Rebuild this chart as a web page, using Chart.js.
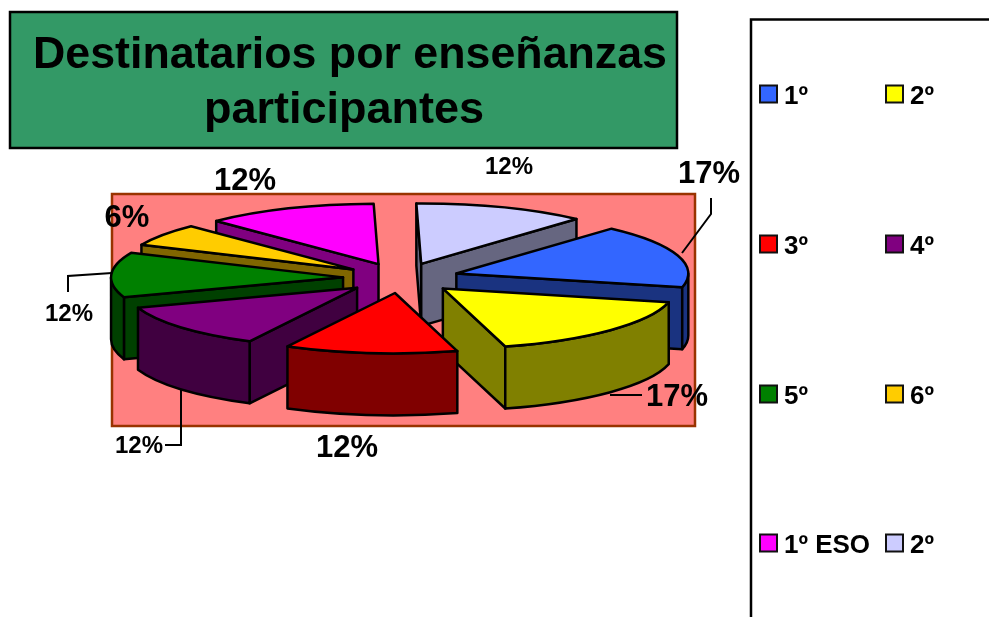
<!DOCTYPE html>
<html>
<head>
<meta charset="utf-8">
<style>html,body{margin:0;padding:0;background:#fff;overflow:hidden}canvas{display:block}</style>
<script src="https://cdn.jsdelivr.net/npm/chart.js@4"></script>
</head>
<body>
<canvas id="c" width="989" height="617"></canvas>
<script>
const titleLines = ['Destinatarios por enseñanzas', 'participantes'];
const categories = ['1º', '2º', '3º', '4º', '5º', '6º', '1º ESO', '2º'];
const shares = [17, 17, 12, 12, 12, 6, 12, 12];
const topColors = ['#3366FF', '#FFFF00', '#FF0000', '#800080', '#008000', '#FFCC00', '#FF00FF', '#CCCCFF'];
const wallColors = ['#1A3380', '#808000', '#800000', '#400040', '#004000', '#806600', '#800080', '#666680'];
const paintOrder = [7, 6, 5, 4, 0, 3, 1, 2];

const FONT = '"Liberation Sans", Arial, sans-serif';
const TILT = 0.26, DEPTH = 62, EXPLODE = 58, RADIUS = 232;
const CX = 401, CY = 278;

const labelSpec = [
  {t: '17%', x: 709, y: 183, s: 31},
  {t: '17%', x: 677, y: 406, s: 31},
  {t: '12%', x: 347, y: 457, s: 31},
  {t: '12%', x: 139, y: 453, s: 24},
  {t: '12%', x: 69,  y: 321, s: 24},
  {t: '6%',  x: 127, y: 227, s: 31},
  {t: '12%', x: 245, y: 190, s: 31},
  {t: '12%', x: 509, y: 174, s: 24}
];
const leaders = [
  [[682, 253], [711, 214], [711, 198]],
  [[610, 395], [642, 395]],
  [[181, 390], [181, 445], [165, 445]],
  [[112, 273], [68, 276], [68, 292]]
];
const legendRows = [94, 244, 394, 543];
const legendCols = [759, 885];

function prism(ctx, el, i) {
  const {startAngle: s, endAngle: e, outerRadius: R} = el;
  const m = (s + e) / 2;
  const ox = CX + EXPLODE * Math.cos(m);
  const oy = CY + EXPLODE * TILT * Math.sin(m);
  const ry = R * TILT;
  const px = a => ox + R * Math.cos(a);
  const py = a => oy + ry * Math.sin(a);
  ctx.lineWidth = 2.5;
  ctx.strokeStyle = '#000';
  ctx.lineJoin = 'round';
  ctx.fillStyle = wallColors[i];
  const face = a => {
    ctx.beginPath();
    ctx.moveTo(ox, oy);
    ctx.lineTo(px(a), py(a));
    ctx.lineTo(px(a), py(a) + DEPTH);
    ctx.lineTo(ox, oy + DEPTH);
    ctx.closePath();
    ctx.fill();
    ctx.stroke();
  };
  if (Math.cos(s) < 0) face(s);
  if (Math.cos(e) > 0) face(e);
  for (let n = -1; n <= 2; n++) {
    const lo = Math.max(s, 2 * Math.PI * n);
    const hi = Math.min(e, Math.PI + 2 * Math.PI * n);
    if (hi > lo) {
      ctx.beginPath();
      ctx.ellipse(ox, oy, R, ry, 0, lo, hi);
      ctx.ellipse(ox, oy + DEPTH, R, ry, 0, hi, lo, true);
      ctx.closePath();
      ctx.fill();
      ctx.stroke();
    }
  }
  // top face: the library's own arc, squashed and moved out
  ctx.save();
  ctx.translate(ox, oy);
  ctx.scale(1, TILT);
  ctx.translate(-el.x, -el.y);
  el.draw(ctx);
  ctx.restore();
  ctx.beginPath();
  ctx.moveTo(ox, oy);
  ctx.ellipse(ox, oy, R, ry, 0, s, e);
  ctx.closePath();
  ctx.stroke();
}

const scene = {
  id: 'scene',
  beforeDraw(chart) {
    const ctx = chart.ctx;
    ctx.save();
    ctx.fillStyle = '#fff';
    ctx.fillRect(0, 0, 989, 617);
    ctx.fillStyle = '#339966';
    ctx.fillRect(10, 12, 667, 136);
    ctx.strokeStyle = '#000';
    ctx.lineWidth = 2.5;
    ctx.strokeRect(10, 12, 667, 136);
    ctx.fillStyle = '#000';
    ctx.textAlign = 'center';
    ctx.textBaseline = 'alphabetic';
    ctx.font = 'bold 45px ' + FONT;
    ctx.fillText(titleLines[0], 350, 68, 634);
    ctx.fillText(titleLines[1], 344, 123);
    ctx.fillStyle = '#FF8080';
    ctx.fillRect(112, 194, 583, 232);
    ctx.strokeStyle = '#993300';
    ctx.lineWidth = 2.5;
    ctx.strokeRect(112, 194, 583, 232);
    ctx.restore();
  },
  beforeDatasetsDraw(chart) {
    const ctx = chart.ctx;
    const arcs = chart.getDatasetMeta(0).data;
    ctx.save();
    paintOrder.forEach(i => prism(ctx, arcs[i], i));
    ctx.restore();
    return false;
  },
  afterDraw(chart) {
    const ctx = chart.ctx;
    ctx.save();
    ctx.strokeStyle = '#000';
    ctx.lineWidth = 2;
    leaders.forEach(pts => {
      ctx.beginPath();
      pts.forEach((p, j) => j ? ctx.lineTo(p[0], p[1]) : ctx.moveTo(p[0], p[1]));
      ctx.stroke();
    });
    ctx.fillStyle = '#000';
    ctx.textAlign = 'center';
    labelSpec.forEach(l => {
      ctx.font = 'bold ' + l.s + 'px ' + FONT;
      ctx.fillText(l.t, l.x, l.y);
    });
    // legend frame runs off the top right of the page
    ctx.lineWidth = 2.5;
    ctx.beginPath();
    ctx.moveTo(751, 617);
    ctx.lineTo(751, 19.5);
    ctx.lineTo(989, 19.5);
    ctx.stroke();
    ctx.textAlign = 'left';
    ctx.font = 'bold 26px ' + FONT;
    categories.forEach((c, i) => {
      const x = legendCols[i % 2];
      const y = legendRows[Math.floor(i / 2)];
      ctx.fillStyle = topColors[i];
      ctx.fillRect(x + 1, y - 8.5, 17, 17);
      ctx.strokeStyle = '#111';
      ctx.lineWidth = 2;
      ctx.strokeRect(x + 1, y - 8.5, 17, 17);
      ctx.fillStyle = '#000';
      ctx.fillText(c, x + 25, y + 10);
    });
    ctx.restore();
  }
};

new Chart(document.getElementById('c'), {
  type: 'pie',
  data: {
    labels: categories,
    datasets: [{data: shares, backgroundColor: topColors, borderWidth: 0}]
  },
  options: {
    responsive: false,
    animation: false,
    rotation: 42,
    radius: RADIUS,
    layout: {padding: {left: 0, right: 187, top: 0, bottom: 61}},
    plugins: {legend: {display: false}, tooltip: {enabled: false}}
  },
  plugins: [scene]
});
</script>
</body>
</html>
